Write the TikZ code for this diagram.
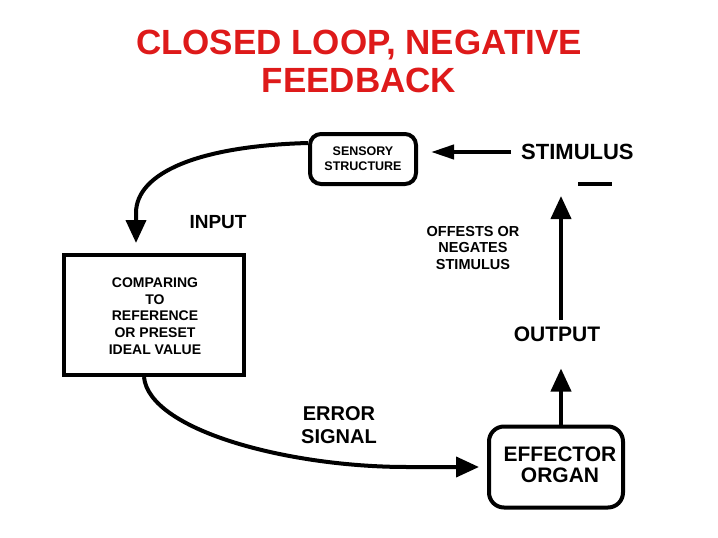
\documentclass[tikz,border=0pt]{standalone}
\usepackage{fontspec}
\setmainfont{Liberation Sans}
\usetikzlibrary{arrows.meta,calc}
\definecolor{titlered}{RGB}{222,26,26}
\begin{document}
\begin{tikzpicture}[x=1pt,y=-1pt,
  lbl/.style 2 args={font=\bfseries\fontsize{#1}{#2}\selectfont, inner sep=0pt, align=center},
  heading/.style={text=titlered, font=\bfseries\fontsize{35}{38}\selectfont, inner sep=0pt, align=center},
  rbox/.style={draw, line width=4pt, rectangle, rounded corners=#1, inner sep=0pt},
  plainbox/.style={draw, line width=4pt, rectangle, inner sep=0pt},
  conn/.style={line width=4pt},
  bighead/.style={-{Triangle[length=23pt,width=20pt]}},
  smallhead/.style={-{Triangle[length=23pt,width=14pt]}}
]
\useasboundingbox[fill=white] (0,0) rectangle (718,538);

\node[heading] (title) at (359,61) {CLOSED LOOP, NEGATIVE\\FEEDBACK};

\node[rbox=11pt, minimum width=106pt, minimum height=50pt] (sensory) at (363,159) {};
\node[lbl={12.5}{15}] (sensorytext) at (sensory.center) {SENSORY\\STRUCTURE};

\node[lbl={22}{24}, anchor=west] (stimulus) at (521,152) {STIMULUS};
\node[fill=black, minimum width=34pt, minimum height=4pt, inner sep=0pt] (dash) at (595,184) {};

\node[lbl={14.5}{16.5}] (offsets) at (473,248) {OFFESTS OR\\NEGATES\\STIMULUS};

\node[lbl={21}{23}] (output) at (557,334) {OUTPUT};

\node[lbl={19}{21}] (input) at (218,222) {INPUT};

\node[plainbox, minimum width=180pt, minimum height=120pt] (comparing) at (154,315) {};
\node[lbl={14}{16.8}] (comparingtext) at (155,316) {COMPARING\\TO\\REFERENCE\\OR PRESET\\IDEAL VALUE};

\node[lbl={20}{23}] (error) at (339,425) {ERROR\\SIGNAL};

\node[rbox=15pt, minimum width=134pt, minimum height=81pt] (effector) at (556,467) {};
\node[lbl={21}{21}] (effectortext) at (560,465) {EFFECTOR\\ORGAN};

\coordinate (uptip) at (561,196);
\coordinate (outbase) at (561,320);

% stimulus -> sensory
\draw[conn, smallhead] ([xshift=-10pt]stimulus.west) -- ([xshift=13pt]sensory.east |- stimulus.west);
% sensory -> comparing (input)
\draw[conn, bighead] ([yshift=16pt]sensory.west) .. controls +(-110,3) and +(0,-40) .. ($(comparing.north)+(-18,-40)$) -- ([xshift=-18pt,yshift=10pt]comparing.north);
% comparing -> effector (error signal)
\draw[conn, bighead] ([xshift=-10pt]comparing.south) .. controls +(5,53) and +(-120,0) .. ($(effector.west)+(-80,0)$) -- ([xshift=-8pt]effector.west);
% effector -> output
\draw[conn, bighead] ([xshift=5pt]effector.north) -- ([xshift=5pt,yshift=56pt]effector.north);
% output -> stimulus
\draw[conn, bighead] (outbase) -- (uptip);
\end{tikzpicture}
\end{document}
